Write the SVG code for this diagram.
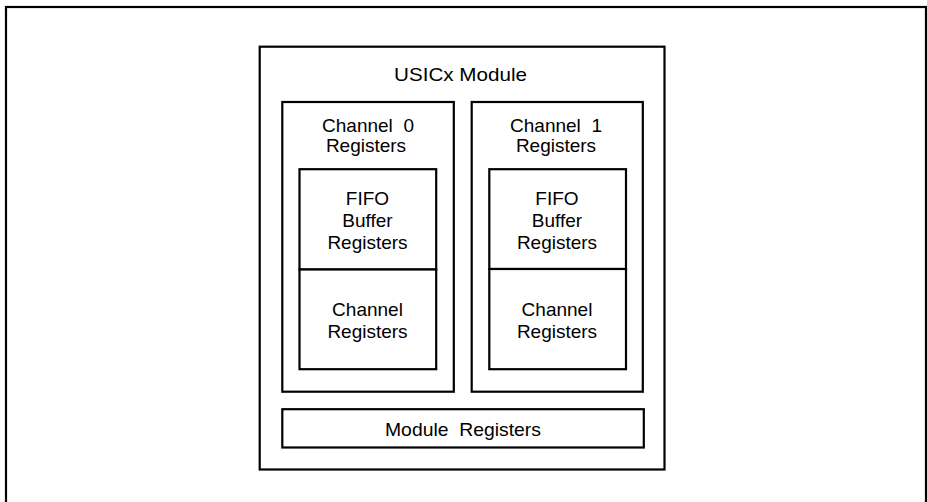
<svg xmlns="http://www.w3.org/2000/svg" width="927" height="502" viewBox="0 0 927 502">
<style>
.b{fill:#fff;stroke:#000;stroke-width:2.2}
.t{font-family:"Liberation Sans",Arial,sans-serif;font-size:19px;fill:#000;text-anchor:middle;white-space:pre}
</style>
<rect width="927" height="502" fill="#fff"/>
<g id="frame"><rect class="b" x="6" y="7" width="920" height="520"/></g>
<g id="usicx">
<rect class="b" x="259.7" y="46.7" width="404.8" height="422.8"/>
<text class="t" x="460.5" y="80.5" textLength="133" lengthAdjust="spacingAndGlyphs">USICx Module</text>
</g>
<g id="ch0">
<rect class="b" x="282.3" y="102" width="171.5" height="289.7"/>
<text class="t" x="368" y="131.5" xml:space="preserve">Channel  0</text>
<text class="t" x="366" y="151.5">Registers</text>
</g>
<g id="ch0fifo">
<rect class="b" x="299.5" y="169.2" width="136.7" height="100.3"/>
<text class="t" x="367.5" y="204.5">FIFO</text>
<text class="t" x="367.5" y="226.5">Buffer</text>
<text class="t" x="367.5" y="248.5">Registers</text>
</g>
<g id="ch0regs">
<rect class="b" x="299.5" y="269.5" width="136.7" height="99.7"/>
<text class="t" x="367.5" y="316">Channel</text>
<text class="t" x="367.5" y="338">Registers</text>
</g>
<g id="ch1">
<rect class="b" x="471.7" y="102" width="171.1" height="289.7"/>
<text class="t" x="556" y="131.5" xml:space="preserve">Channel  1</text>
<text class="t" x="556" y="151.5">Registers</text>
</g>
<g id="ch1fifo">
<rect class="b" x="489.3" y="169.2" width="136.7" height="99.8"/>
<text class="t" x="557" y="204.5">FIFO</text>
<text class="t" x="557" y="226.5">Buffer</text>
<text class="t" x="557" y="248.5">Registers</text>
</g>
<g id="ch1regs">
<rect class="b" x="489.3" y="269" width="136.7" height="100.2"/>
<text class="t" x="557" y="316">Channel</text>
<text class="t" x="557" y="338">Registers</text>
</g>
<g id="modregs">
<rect class="b" x="282.3" y="409.2" width="361.5" height="38.3"/>
<text class="t" x="463" y="436" xml:space="preserve" textLength="156" lengthAdjust="spacingAndGlyphs">Module  Registers</text>
</g>
<g id="connectors"></g>
</svg>
